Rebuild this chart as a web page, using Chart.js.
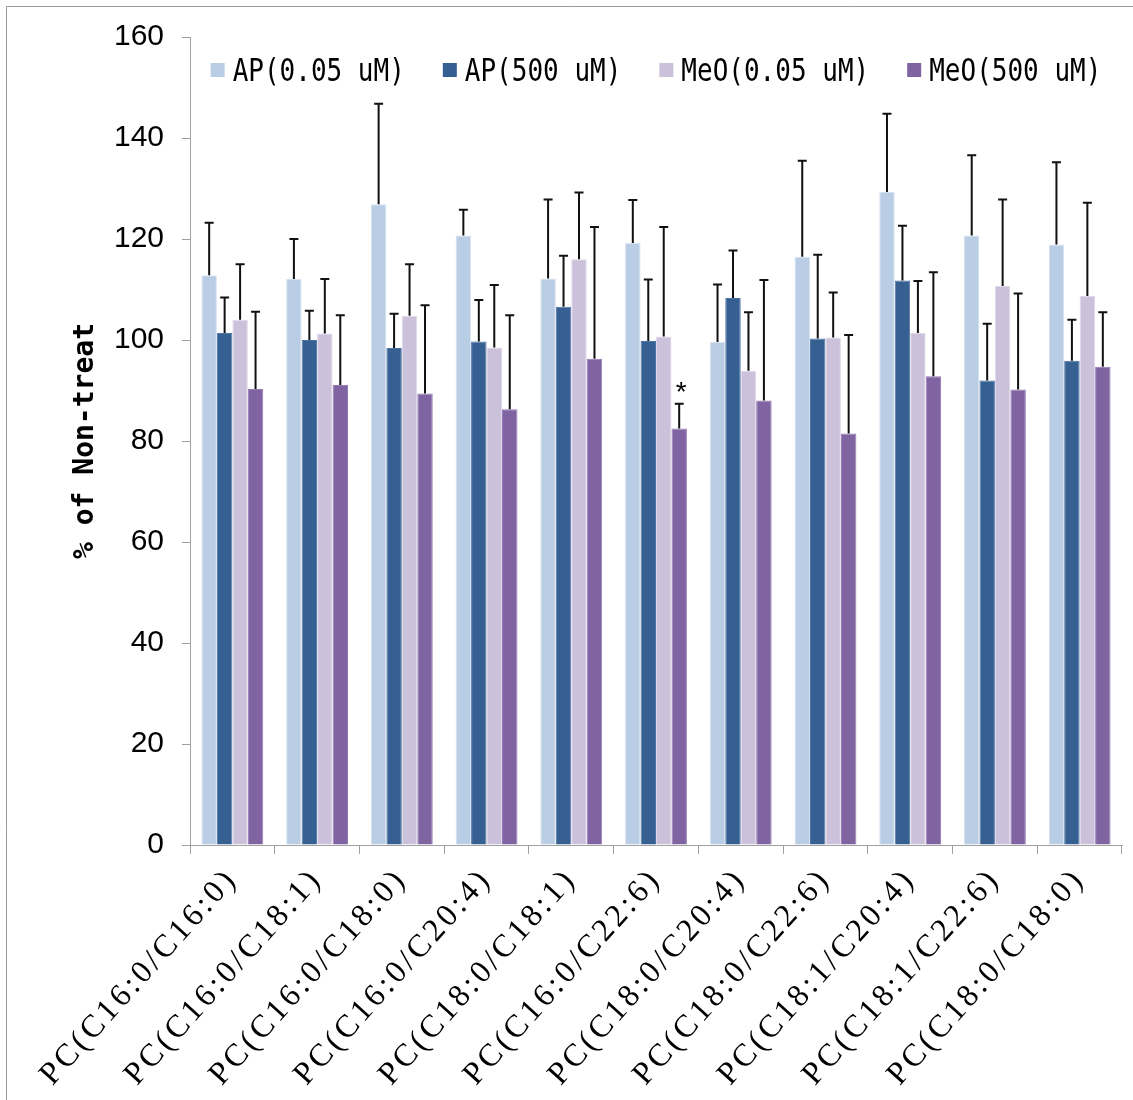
<!DOCTYPE html>
<html>
<head>
<meta charset="utf-8">
<script src="https://cdn.jsdelivr.net/npm/chart.js@4"></script>
<style>
  body { margin: 0; background: #fff; }
  #wrap { position: relative; width: 1133px; height: 1100px; }
</style>
</head>
<body>
<div id="wrap"><canvas id="pc-chart"></canvas></div>
<script>
// values (% of non-treat, mean and upper SD)
const categories = ['PC(C16:0/C16:0)', 'PC(C16:0/C18:1)', 'PC(C16:0/C18:0)', 'PC(C16:0/C20:4)',
  'PC(C18:0/C18:1)', 'PC(C16:0/C22:6)', 'PC(C18:0/C20:4)', 'PC(C18:0/C22:6)',
  'PC(C18:1/C20:4)', 'PC(C18:1/C22:6)', 'PC(C18:0/C18:0)'];

const ap005 = [112.8, 112.1, 126.9, 120.7, 112.2, 119.2, 99.6, 116.5, 129.3, 120.7, 118.9];
const ap005Err = [10.4, 7.9, 19.9, 5.1, 15.6, 8.5, 11.4, 19.0, 15.5, 15.9, 16.3];
const ap500 = [101.4, 100.0, 98.4, 99.7, 106.6, 99.8, 108.3, 100.3, 111.8, 92.0, 95.9];
const ap500Err = [7.0, 5.8, 6.8, 8.2, 10.1, 12.2, 9.4, 16.6, 10.8, 11.2, 8.1];
const meo005 = [104.0, 101.3, 104.8, 98.5, 116.0, 100.7, 93.9, 100.5, 101.4, 110.7, 108.7];
const meo005Err = [11.0, 10.8, 10.2, 12.4, 13.2, 21.7, 11.6, 8.9, 10.3, 17.1, 18.5];
const meo500 = [90.3, 91.1, 89.4, 86.3, 96.3, 82.5, 88.0, 81.5, 92.8, 90.2, 94.7];
const meo500Err = [15.3, 13.8, 17.5, 18.6, 26.1, 4.9, 23.9, 19.5, 20.6, 19.0, 10.8];
const meo500Marks = ['', '', '', '', '', '*', '', '', '', '', ''];

const yTicks = [0, 20, 40, 60, 80, 100, 120, 140, 160];

// upper error bars + significance marks
const errorBars = {
  id: 'errorBars',
  afterDatasetsDraw(chart) {
    const ctx = chart.ctx, y = chart.scales.y;
    chart.data.datasets.forEach((ds, i) => {
      const meta = chart.getDatasetMeta(i);
      meta.data.forEach((bar, j) => {
        const top = y.getPixelForValue(ds.data[j] + ds.errors[j]);
        const base = y.getPixelForValue(ds.data[j]);
        ctx.save();
        ctx.strokeStyle = '#111';
        ctx.lineWidth = 2;
        ctx.beginPath();
        ctx.moveTo(bar.x, base);
        ctx.lineTo(bar.x, top);
        ctx.moveTo(bar.x - 4.5, top);
        ctx.lineTo(bar.x + 4.5, top);
        ctx.stroke();
        if (ds.marks && ds.marks[j]) {
          ctx.fillStyle = '#000';
          ctx.font = '28px "Liberation Sans", Arial';
          ctx.textAlign = 'center';
          ctx.textBaseline = 'alphabetic';
          ctx.fillText(ds.marks[j], bar.x + 2, top - 3);
        }
        ctx.restore();
      });
    });
  }
};

// legend in a single row inside the top of the plot
const innerLegend = {
  id: 'innerLegend',
  afterDraw(chart) {
    const ctx = chart.ctx, area = chart.chartArea;
    const box = 14, gap = 8, itemGap = 38, sy = 1.2;
    ctx.save();
    ctx.font = '26px "DejaVu Sans Mono", monospace';
    const items = chart.data.datasets.map(ds => ({ ds, w: ctx.measureText(ds.label).width }));
    const total = items.reduce((s, it) => s + box + gap + it.w, 0) + itemGap * (items.length - 1);
    let x = (area.left + area.right) / 2 - total / 2;
    const cy = area.top + 36;
    items.forEach(it => {
      ctx.fillStyle = it.ds.backgroundColor;
      ctx.fillRect(x, cy - 10, box, box);
      ctx.save();
      ctx.translate(x + box + gap, cy);
      ctx.scale(1, sy);
      ctx.fillStyle = '#000';
      ctx.textBaseline = 'middle';
      ctx.fillText(it.ds.label, 0, 0);
      ctx.restore();
      x += box + gap + it.w + itemGap;
    });
    ctx.restore();
  }
};

// frame line at top and left, and wider spacing for the category labels
const frame = {
  id: 'frame',
  beforeDraw(chart) {
    const ctx = chart.ctx;
    ctx.save();
    ctx.strokeStyle = '#9a9a9a';
    ctx.lineWidth = 1;
    ctx.beginPath();
    ctx.moveTo(6.5, 1100);
    ctx.lineTo(6.5, 6.5);
    ctx.lineTo(1133, 6.5);
    ctx.stroke();
    ctx.restore();
    const xs = chart.scales.x;
    if (!xs._spaced) {
      const orig = xs.drawLabels.bind(xs);
      xs.drawLabels = function (area) {
        this.ctx.save();
        this.ctx.letterSpacing = '3.5px';
        orig(area);
        this.ctx.restore();
      };
      xs._spaced = true;
    }
  }
};

const ctx = document.getElementById('pc-chart').getContext('2d');
const pcChart = new Chart(ctx, {
  type: 'bar',
  data: {
    labels: categories,
    datasets: [
      { label: 'AP(0.05 uM)', data: ap005, errors: ap005Err, backgroundColor: '#B9CDE5', borderColor: '#D6E2F0', borderWidth: 1 },
      { label: 'AP(500 uM)', data: ap500, errors: ap500Err, backgroundColor: '#376092', borderColor: '#4C74A4', borderWidth: 1 },
      { label: 'MeO(0.05 uM)', data: meo005, errors: meo005Err, backgroundColor: '#CCC1DA', borderColor: '#E0D8EA', borderWidth: 1 },
      { label: 'MeO(500 uM)', data: meo500, errors: meo500Err, marks: meo500Marks, backgroundColor: '#8064A2', borderColor: '#9479B4', borderWidth: 1 }
    ]
  },
  options: {
    responsive: true,
    maintainAspectRatio: false,
    animation: false,
    layout: { padding: { top: 37, right: 11, left: 0, bottom: 0 } },
    datasets: { bar: { categoryPercentage: 0.73, barPercentage: 1.0 } },
    plugins: {
      tooltip: { enabled: false },
      legend: { display: false }
    },
    scales: {
      x: {
        afterFit(s) { s.height = 255; },
        grid: { display: true, offset: true, drawOnChartArea: false, drawTicks: true, tickLength: 9, color: '#a0a0a0' },
        border: { color: '#a0a0a0', width: 1 },
        ticks: {
          color: '#000',
          font: { family: '"Liberation Serif", "Times New Roman", serif', size: 32 },
          minRotation: 48,
          maxRotation: 48,
          autoSkip: false,
          padding: 7
        }
      },
      y: {
        min: 0,
        max: 160,
        afterFit(s) { s.width = 190; },
        afterBuildTicks(s) { s.ticks = yTicks.map(v => ({ value: v })); },
        grid: { display: true, drawOnChartArea: false, drawTicks: true, tickLength: 8, color: '#a0a0a0' },
        border: { color: '#a0a0a0', width: 1 },
        ticks: {
          color: '#000',
          font: { family: '"Liberation Sans", Arial, sans-serif', size: 30 },
          padding: 18
        },
        title: {
          display: true,
          text: '% of Non-treat',
          color: '#000',
          font: { family: '"DejaVu Sans Mono", monospace', size: 28, weight: 'bold' },
          padding: { top: 69, bottom: 0 }
        }
      }
    }
  },
  plugins: [frame, errorBars, innerLegend]
});
</script>
</body>
</html>
